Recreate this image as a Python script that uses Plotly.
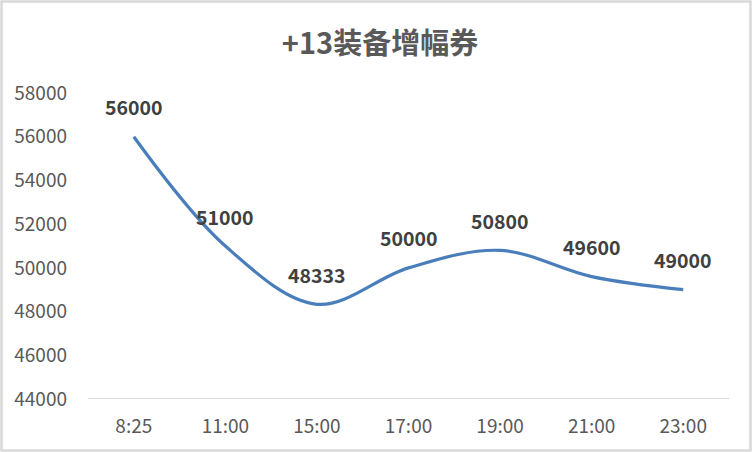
import plotly.graph_objects as go

title = "+13装备增幅券"
times = ["8:25", "11:00", "15:00", "17:00", "19:00", "21:00", "23:00"]
prices = [56000, 51000, 48333, 50000, 50800, 49600, 49000]
y_ticks = [44000, 46000, 48000, 50000, 52000, 54000, 56000, 58000]

W, H = 752, 452
ml, mr, mt, mb = 88, 23, 93, 53

fig = go.Figure()
fig.add_trace(go.Scatter(
    x=times, y=prices, mode="lines",
    line=dict(color="#4a7ebb", width=3.2, shape="spline", smoothing=1.0),
    hoverinfo="x+y", showlegend=False,
))

for t, p in zip(times, prices):
    fig.add_annotation(x=t, y=p, text=f"<b>{p}</b>", showarrow=False,
                       yshift=30, font=dict(size=19.5, color="#404040",
                                            family="Noto Sans CJK SC"))

pw, ph = W - ml - mr, H - mt - mb
fig.add_shape(type="rect", xref="paper", yref="paper",
              x0=-(ml - 1.5) / pw, x1=1 + (mr - 1.5) / pw,
              y0=-(mb - 1.5) / ph, y1=1 + (mt - 1.5) / ph,
              line=dict(color="#d9d9d9", width=2.5), layer="above")

fig.update_layout(
    width=W, height=H,
    margin=dict(l=ml, r=mr, t=mt, b=mb, autoexpand=False),
    paper_bgcolor="white", plot_bgcolor="white",
    title=dict(text=f"<b>{title}</b>", x=380 / W, xref="container", xanchor="center",
               y=1 - 44 / H, yanchor="middle",
               font=dict(size=29, color="#595959", family="Noto Sans CJK SC")),
    font=dict(family="Noto Sans CJK SC", color="#595959"),
    xaxis=dict(type="category", range=[-0.5, len(times) - 0.5],
               showgrid=False, showline=False, zeroline=False,
               automargin=False, ticks="", tickfont=dict(size=19, color="#595959"),
               ticklabelstandoff=14),
    yaxis=dict(range=[44000, 58000], tickvals=y_ticks, tickformat="d",
               showgrid=False, zeroline=False, showline=False, ticks="",
               automargin=False, tickfont=dict(size=19, color="#595959"),
               ticklabelstandoff=20),
)
fig.add_hline(y=44000, line=dict(color="#d9d9d9", width=2))

fig.write_html("out.html", config={"displayModeBar": False},
               post_script="document.body.style.margin='0';document.body.style.overflow='hidden';")
